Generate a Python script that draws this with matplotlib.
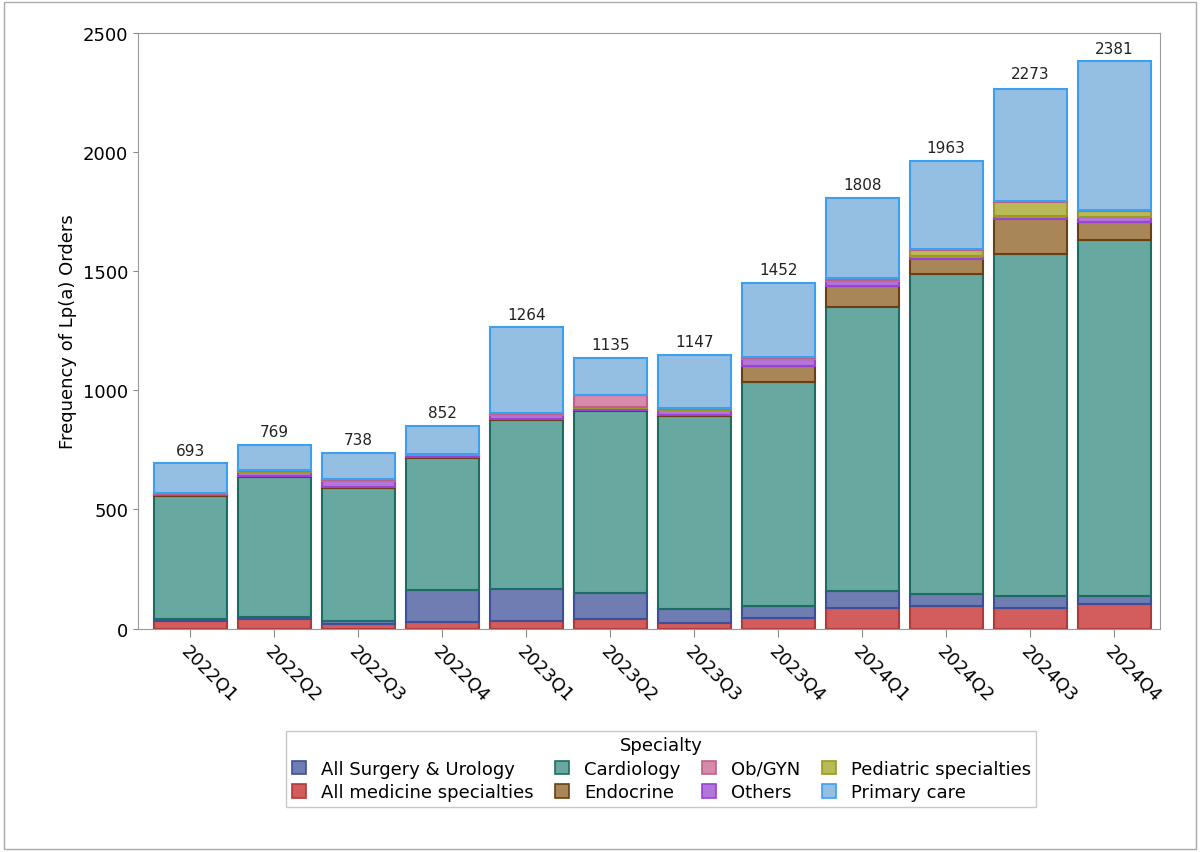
import numpy as np
import matplotlib.pyplot as plt
from matplotlib.patches import Rectangle

quarters = ['2022Q1', '2022Q2', '2022Q3', '2022Q4', '2023Q1', '2023Q2',
            '2023Q3', '2023Q4', '2024Q1', '2024Q2', '2024Q3', '2024Q4']
totals = [693, 769, 738, 852, 1264, 1135, 1147, 1452, 1808, 1963, 2273, 2381]

medicine = [31, 38, 21, 29, 30, 42, 24, 45, 87, 94, 87, 101]
surgery = [11, 12, 10, 132, 138, 109, 56, 49, 70, 49, 49, 35]
cardiology = [514, 588, 561, 554, 707, 762, 812, 941, 1193, 1347, 1438, 1494]
endocrine = [5, 3, 3, 4, 6, 4, 4, 67, 88, 60, 147, 76]
others = [4, 16, 24, 10, 15, 9, 20, 28, 20, 14, 10, 22]
pediatric = [0, 3, 5, 2, 4, 3, 6, 5, 7, 26, 60, 25]
obgyn = [2, 5, 3, 3, 5, 50, 4, 5, 5, 5, 4, 4]
primary = [126, 104, 111, 118, 359, 156, 221, 312, 338, 368, 471, 624]

# stack order bottom -> top: (name, values, fill, edge)
stack = [
    ('All medicine specialties', medicine, '#d35c5c', '#b03a3a'),
    ('All Surgery & Urology', surgery, '#6f7db3', '#3d4f9a'),
    ('Cardiology', cardiology, '#67a8a0', '#1c6e62'),
    ('Endocrine', endocrine, '#a98657', '#6a3f12'),
    ('Others', others, '#b276d8', '#9b40d8'),
    ('Pediatric specialties', pediatric, '#b9b957', '#9a9a20'),
    ('Ob/GYN', obgyn, '#d98aac', '#c0608a'),
    ('Primary care', primary, '#95bee3', '#3ba0f0'),
]
legend_order = ['All Surgery & Urology', 'All medicine specialties', 'Cardiology', 'Endocrine',
                'Ob/GYN', 'Others', 'Pediatric specialties', 'Primary care']

fig = plt.figure(figsize=(12, 8.53), dpi=100)
ax = fig.add_axes([0.115, 0.262, 0.852, 0.698])

x = np.arange(len(quarters))
bottom = np.zeros(len(quarters))
handles = {}
for name, vals, fc, ec in stack:
    vals = np.array(vals, dtype=float)
    b = ax.bar(x, vals, bottom=bottom, width=0.87, color=fc, edgecolor=ec, linewidth=1.5)
    handles[name] = Rectangle((0, 0), 1, 1, facecolor=fc, edgecolor=ec, linewidth=1.2)
    bottom += vals

for xi, t in zip(x, totals):
    ax.text(xi, t + 25, str(t), ha='center', va='bottom', fontsize=11, color='#222222')

ax.set_ylim(0, 2500)
ax.set_xlim(-0.62, len(quarters) - 0.45)
ax.set_yticks([0, 500, 1000, 1500, 2000, 2500])
ax.tick_params(axis='y', labelsize=13, color='#888888')
ax.set_xticks(x)
ax.set_xticklabels(quarters, rotation=-45, ha='left', rotation_mode='anchor', fontsize=13)
ax.tick_params(axis='x', color='#888888', length=6)
ax.set_ylabel('Frequency of Lp(a) Orders', fontsize=13)
for s in ax.spines.values():
    s.set_color('#999999')

leg = fig.legend([handles[n] for n in legend_order], legend_order, title='Specialty',
                 loc='center', bbox_to_anchor=(0.551, 0.0975), ncol=4, fontsize=13,
                 title_fontsize=13, frameon=True, edgecolor='#bbbbbb', fancybox=False,
                 handlelength=0.8, handleheight=0.8, columnspacing=1.2, borderpad=0.3,
                 labelspacing=0.3)

fig.patches.append(Rectangle((0.003, 0.003), 0.994, 0.994, transform=fig.transFigure,
                             fill=False, edgecolor='#aaaaaa', linewidth=1))
fig.savefig('out.png', dpi=100)
